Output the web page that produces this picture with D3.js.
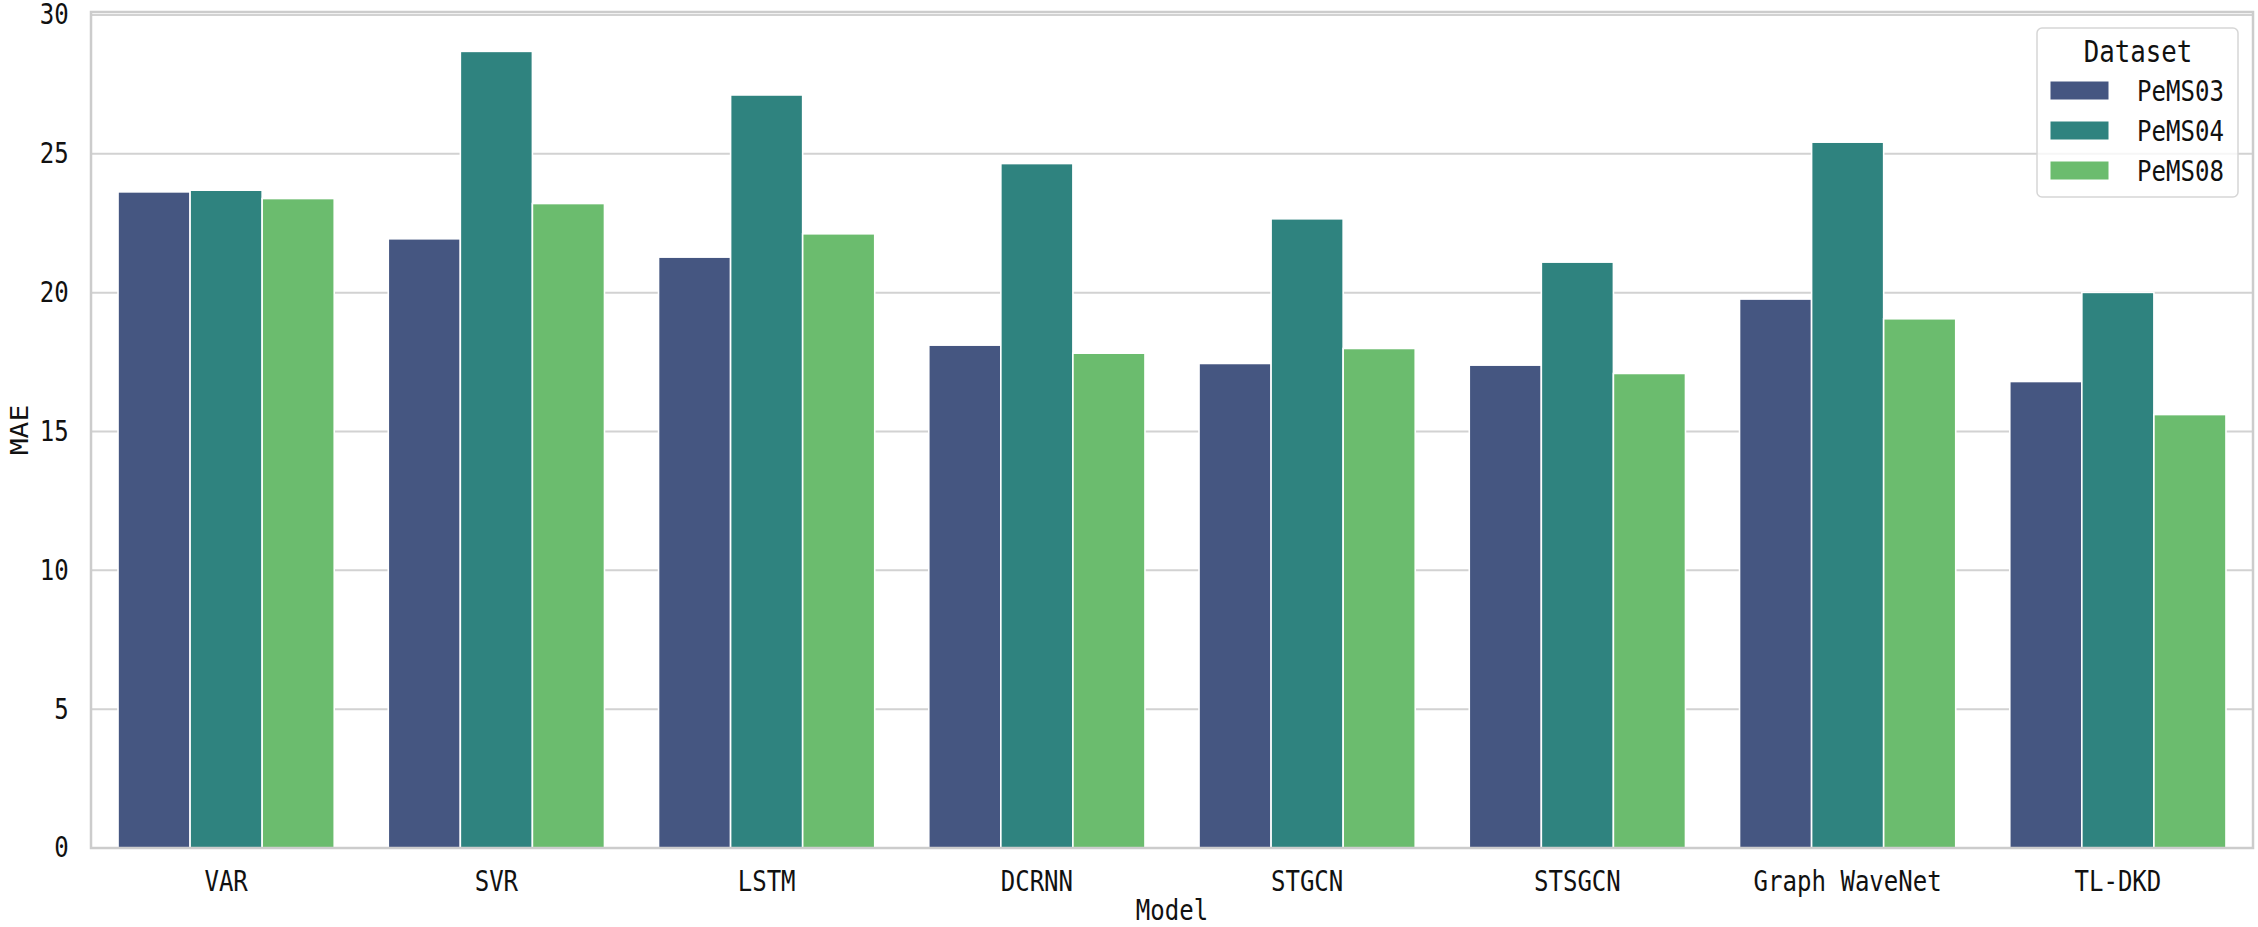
<!DOCTYPE html>
<html>
<head>
<meta charset="utf-8">
<script src="https://cdn.jsdelivr.net/npm/d3@7"></script>
<style>
  html, body { margin: 0; padding: 0; background: #fff; }
  svg text { font-family: "DejaVu Sans Mono", "Liberation Mono", monospace; fill: #111; }
</style>
</head>
<body>
<svg id="chart" width="2258" height="927"></svg>
<script>
const models = ["VAR", "SVR", "LSTM", "DCRNN", "STGCN", "STSGCN", "Graph WaveNet", "TL-DKD"];
const datasets = ["PeMS03", "PeMS04", "PeMS08"];
const pems03 = [23.63, 21.94, 21.28, 18.11, 17.45, 17.39, 19.77, 16.80];
const pems04 = [23.69, 28.69, 27.12, 24.65, 22.66, 21.10, 25.42, 20.01];
const pems08 = [23.39, 23.21, 22.12, 17.82, 17.99, 17.09, 19.06, 15.61];
const yTicks = [0, 5, 10, 15, 20, 25, 30];
const colors = ["#455681", "#2f837f", "#6bbc6e"];

const seriesValues = [pems03, pems04, pems08];

const svg = d3.select("#chart");
const mLeft = 91, mRight = 2253, mTop = 12, mBottom = 848;
const sx = 0.86;

const y = d3.scaleLinear().domain([0, 30]).range([mBottom, 15]);
const x0 = d3.scaleBand().domain(models).range([mLeft, mRight]).paddingInner(0.2).paddingOuter(0.1);
const x1 = d3.scaleBand().domain(datasets).range([0, x0.bandwidth()]);
const color = d3.scaleOrdinal().domain(datasets).range(colors);

// gridlines
svg.append("g").selectAll("line").data(yTicks).join("line")
  .attr("x1", mLeft).attr("x2", mRight)
  .attr("y1", d => y(d)).attr("y2", d => y(d))
  .attr("stroke", "#d2d2d2").attr("stroke-width", 2);

// bars
const groups = svg.append("g").selectAll("g").data(models).join("g")
  .attr("transform", d => `translate(${x0(d)},0)`);
groups.selectAll("rect")
  .data((m, i) => datasets.map((ds, j) => ({ ds, v: seriesValues[j][i] })))
  .join("rect")
  .attr("x", d => x1(d.ds))
  .attr("y", d => y(d.v))
  .attr("width", x1.bandwidth())
  .attr("height", d => y(0) - y(d.v))
  .attr("fill", d => color(d.ds))
  .attr("stroke", "#ffffff").attr("stroke-width", 1.6);

// spines
svg.append("rect")
  .attr("x", mLeft).attr("y", mTop)
  .attr("width", mRight - mLeft).attr("height", mBottom - mTop)
  .attr("fill", "none").attr("stroke", "#cccccc").attr("stroke-width", 2.5);

// y axis labels
const yAxis = d3.axisLeft(y).tickValues(yTicks).tickSize(0).tickPadding(26);
const gy = svg.append("g").attr("transform", `translate(${mLeft},0)`).call(yAxis);
gy.select(".domain").remove();
gy.selectAll("text").style("font-size", "28px").style("font-family", "'DejaVu Sans Mono', monospace")
  .attr("fill", "#111").attr("transform", `scale(${sx},1)`);

// x axis labels
const xAxis = d3.axisBottom(x0).tickSize(0).tickPadding(23);
const gx = svg.append("g").attr("transform", `translate(0,${mBottom})`).call(xAxis);
gx.select(".domain").remove();
gx.selectAll("text").style("font-size", "28px").style("font-family", "'DejaVu Sans Mono', monospace")
  .attr("fill", "#111").attr("transform", `scale(${sx},1)`);

// axis titles
svg.append("text")
  .attr("transform", `translate(${(mLeft + mRight) / 2},920) scale(${sx},1)`)
  .attr("text-anchor", "middle").style("font-size", "28px").text("Model");
svg.append("text")
  .attr("transform", `translate(28,${(mTop + mBottom) / 2}) rotate(-90) scale(1,${sx})`)
  .attr("text-anchor", "middle").style("font-size", "28px").text("MAE");

// legend
const lg = svg.append("g");
lg.append("rect")
  .attr("x", 2037).attr("y", 28).attr("width", 201).attr("height", 169)
  .attr("rx", 5).attr("fill", "rgba(255,255,255,0.8)")
  .attr("stroke", "#d6d6d6").attr("stroke-width", 1.5);
lg.append("text")
  .attr("transform", `translate(2138,62) scale(${sx},1)`)
  .attr("text-anchor", "middle").style("font-size", "30px").text("Dataset");
const items = lg.selectAll("g.item").data(datasets).join("g").attr("class", "item")
  .attr("transform", (d, i) => `translate(2050,${91 + i * 40})`);
items.append("rect")
  .attr("x", 0).attr("y", -10).attr("width", 59).attr("height", 19)
  .attr("fill", d => color(d)).attr("stroke", "#ffffff").attr("stroke-width", 1);
items.append("text")
  .attr("transform", `translate(87,10) scale(${sx},1)`)
  .style("font-size", "28px").text(d => d);
</script>
</body>
</html>
